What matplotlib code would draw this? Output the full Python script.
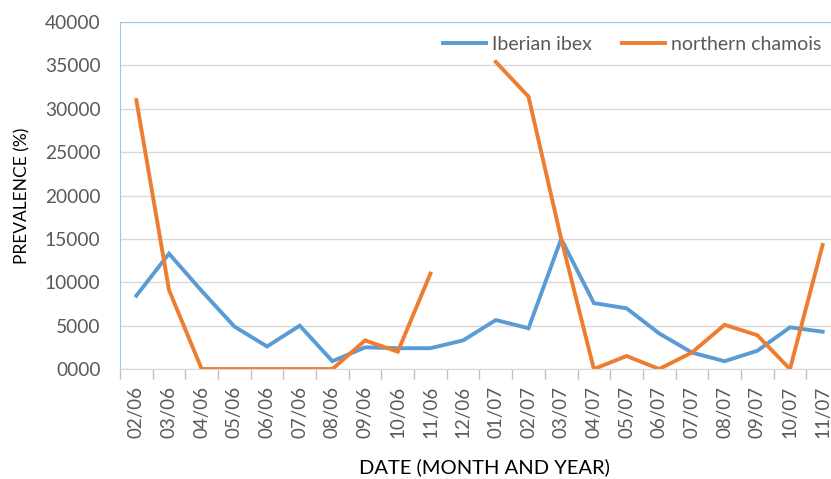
import numpy as np
import matplotlib
matplotlib.use("Agg")
import matplotlib.pyplot as plt
from matplotlib.ticker import FuncFormatter, FixedLocator

plt.rcParams['font.family'] = ['Lato', 'DejaVu Sans']

# categories on the x axis (month/year)
dates = ["02/06", "03/06", "04/06", "05/06", "06/06", "07/06", "08/06", "09/06",
         "10/06", "11/06", "12/06", "01/07", "02/07", "03/07", "04/07", "05/07",
         "06/07", "07/07", "08/07", "09/07", "10/07", "11/07"]

ibex = [8450, 13300, 9000, 4900, 2600, 5000, 900, 2500, 2400, 2400, 3300,
        5650, 4700, 15000, 7600, 7000, 4100, 1900, 900, 2100, 4800, 4300]
chamois = [31000, 9100, 0, 0, 0, 0, 0, 3300, 2000, 11000, np.nan,
           35400, 31400, 15000, 0, 1500, 0, 1900, 5100, 3900, 0, 14300]

blue = '#5B9BD5'
orange = '#ED7D31'
grey = '#595959'

fig = plt.figure(figsize=(8.31, 4.79), dpi=100)
# the original is cropped on the right, so the axes runs past the figure edge
ax = fig.add_axes([0.1444, 0.2296, 0.8652, 0.7244])

x = np.arange(len(dates))
ax.plot(x, ibex, color=blue, lw=2.8, label="Iberian ibex", solid_joinstyle='miter')
ax.plot(x, chamois, color=orange, lw=2.8, label="northern chamois", solid_joinstyle='miter')

ax.set_xlim(-0.5, len(dates) - 0.5)
ax.set_ylim(0, 40000)
ax.set_yticks(np.arange(0, 40001, 5000))
ax.yaxis.set_major_formatter(FuncFormatter(lambda v, p: f"{int(v):04d}"))
ax.grid(axis='y', color='#D9D9D9', lw=1)
ax.set_axisbelow(True)

ax.set_xticks(x)
ax.set_xticklabels(dates, rotation=90)
ax.xaxis.set_minor_locator(FixedLocator(np.arange(-0.5, len(dates), 1)))
ax.tick_params(axis='x', which='major', length=0, pad=12, labelsize=13.5, labelcolor=grey)
ax.tick_params(axis='x', which='minor', length=7, color='#BFBFBF', width=1)
ax.tick_params(axis='y', length=0, pad=14, labelsize=13.8, labelcolor=grey)

ax.spines['right'].set_visible(False)
ax.spines['left'].set_color('#9DC3E6')
ax.spines['top'].set_color('#9DC3E6')
ax.spines['bottom'].set_color('#D9D9D9')

# axis titles placed by hand, as in the original
fig.text(22 / 831, 1 - 196 / 479, "PREVALENCE (%)", rotation=90, fontsize=12.5,
         color='black', ha='center', va='center')
fig.text(484 / 831, 1 - 467 / 479, "DATE (MONTH AND YEAR)", fontsize=14.5,
         color='black', ha='center', va='center')

leg = ax.legend(loc='upper right', ncol=2, frameon=False, fontsize=14,
                bbox_to_anchor=(1.0, 1.01), handlelength=2.2, columnspacing=1.6,
                handletextpad=0.3)
for t in leg.get_texts():
    t.set_color(grey)

fig.savefig("out.png", dpi=100)
